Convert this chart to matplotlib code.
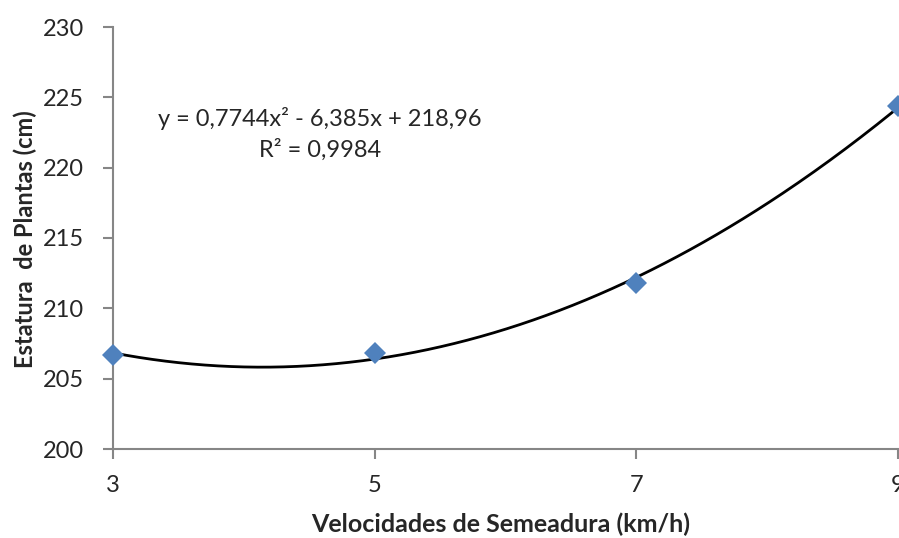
import numpy as np
import matplotlib
matplotlib.use("Agg")
import matplotlib.pyplot as plt

velocidades = [3, 5, 7, 9]
estatura = [206.7, 206.8, 211.8, 224.4]
x_ticks = [3, 5, 7, 9]
y_ticks = [200, 205, 210, 215, 220, 225, 230]
equation = "y = 0,7744x² - 6,385x + 218,96\nR² = 0,9984"

plt.rcParams['font.family'] = ['Lato', 'DejaVu Sans']

fig = plt.figure(figsize=(8.99, 5.38), dpi=100)
ax = fig.add_axes([113/899, (538-449)/538, 785/899, (449-27)/538])

coef = np.polyfit(velocidades, estatura, 2)
xs = np.linspace(3, 9, 300)
ax.plot(xs, np.polyval(coef, xs), color='black', lw=2, zorder=2)
ax.plot(velocidades, estatura, linestyle='none', marker='D', markersize=11,
        color='#4F81BD', markeredgewidth=0, clip_on=False, zorder=3)

ax.set_xlim(3, 9)
ax.set_ylim(200, 230)
ax.set_xticks(x_ticks)
ax.set_yticks(y_ticks)
ax.tick_params(axis='both', labelsize=17, colors='#868686', length=7, width=1.5,
               labelcolor='#262626', direction='out')
ax.tick_params(axis='x', pad=12)
ax.tick_params(axis='y', pad=14)
for s in ['top', 'right']:
    ax.spines[s].set_visible(False)
for s in ['left', 'bottom']:
    ax.spines[s].set_color('#868686')
    ax.spines[s].set_linewidth(1.5)

fig.text(501/899, 1-524/538, "Velocidades de Semeadura (km/h)", fontsize=18,
         fontweight='bold', color='#262626', ha='center', va='center')
fig.text(25/899, 1-239/538, "Estatura  de Plantas (cm)", fontsize=17,
         fontweight='bold', color='#262626', ha='center', va='center',
         rotation=90)

fig.text(320/899, 1-134/538, equation, ha='center', va='center', fontsize=17,
         color='#262626', multialignment='center', linespacing=1.45)

fig.savefig("out.png", dpi=100)
